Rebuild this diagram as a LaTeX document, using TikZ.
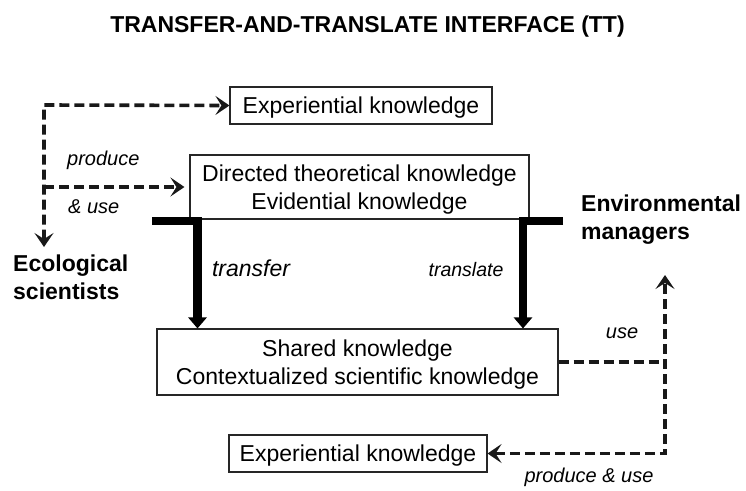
\documentclass[tikz,border=0pt]{standalone}
\usepackage{fontspec}
\setmainfont{Liberation Sans}
\usetikzlibrary{arrows.meta}
\begin{document}
\begin{tikzpicture}[x=1pt,y=-1pt,
  box/.style={draw=black!85, line width=1.1pt, inner sep=0pt, align=center,
    font=\fontsize{23}{28}\selectfont, text depth=0pt},
  bigbold/.style={font=\fontsize{23}{28}\selectfont\bfseries, inner sep=0pt},
  lab/.style={font=\fontsize{20}{24}\selectfont\itshape, inner sep=0pt},
  dsh/.style={line width=3.6pt, dash pattern=on 10pt off 5pt, black!90},
  thickarr/.style={line width=8.5pt, line join=miter, black, -{Triangle[length=11pt,width=18pt]}}
]
\useasboundingbox (0,0) rectangle (746,490);

% title
\node[bigbold, anchor=base] (title) at (367.5,32) {TRANSFER-AND-TRANSLATE INTERFACE (TT)};

% boxes
\node[box, minimum width=262pt, minimum height=37pt, text height=16.5pt] (exp1) at (361,105.5) {Experiential knowledge};
\node[box, minimum width=339pt, minimum height=64pt, text height=44.5pt] (dir) at (359.5,187) {Directed theoretical knowledge\\Evidential knowledge};
\node[box, minimum width=401pt, minimum height=66pt, text height=44.5pt] (shared) at (357.5,362) {Shared knowledge\\Contextualized scientific knowledge};
\node[box, minimum width=258pt, minimum height=37pt, text height=16.5pt] (exp2) at (358,453.5) {Experiential knowledge};

% actors
\node[bigbold, align=left, anchor=north west] (eco) at (13,255) {Ecological\\scientists};
\node[bigbold, align=left, anchor=north west] (env) at (581,195) {Environmental\\managers};

% labels
\node[lab, anchor=base west] (produce) at (67,165) {produce};
\node[lab, anchor=base west] (anduse) at (68,213) {\& use};
\node[font=\fontsize{23}{28}\selectfont\itshape, inner sep=0pt, anchor=base] (transfer) at (251,276) {transfer};
\node[font=\fontsize{19.5}{24}\selectfont\itshape, inner sep=0pt, anchor=base] (translate) at (466,276) {translate};
\node[lab, anchor=base] (use) at (622,338) {use};
\node[lab, anchor=base] (pu) at (589,482) {produce \& use};

% left dashed connectors
\coordinate (lt) at (44,105);
\coordinate (ld) at (44,247);
\draw[dsh, {Stealth[length=14pt,width=19pt,inset=6pt]}-{Stealth[length=14pt,width=19pt,inset=6pt]}] (ld) -- (lt) -- (exp1.west);
\draw[dsh, -{Stealth[length=14pt,width=19pt,inset=6pt]}, shorten >=5pt] (lt |- dir.west) -- (dir.west);

% right dashed connectors
\coordinate (rt) at (665,275);
\draw[dsh, {Stealth[length=14pt,width=19pt,inset=6pt]}-{Stealth[length=14pt,width=19pt,inset=6pt]}] (exp2.east) -- (exp2.east -| rt) -- (rt);
\draw[dsh] (shared.east) -- (shared.east -| rt);

% thick transfer / translate arrows
\coordinate (tl) at (152,221);
\coordinate (tlc) at (197.5,221);
\draw[thickarr] (tl) -- (tlc) -- (tlc |- shared.north);
\coordinate (tr) at (563,221);
\coordinate (trc) at (523,221);
\draw[thickarr] (tr) -- (trc) -- (trc |- shared.north);
\end{tikzpicture}
\end{document}
